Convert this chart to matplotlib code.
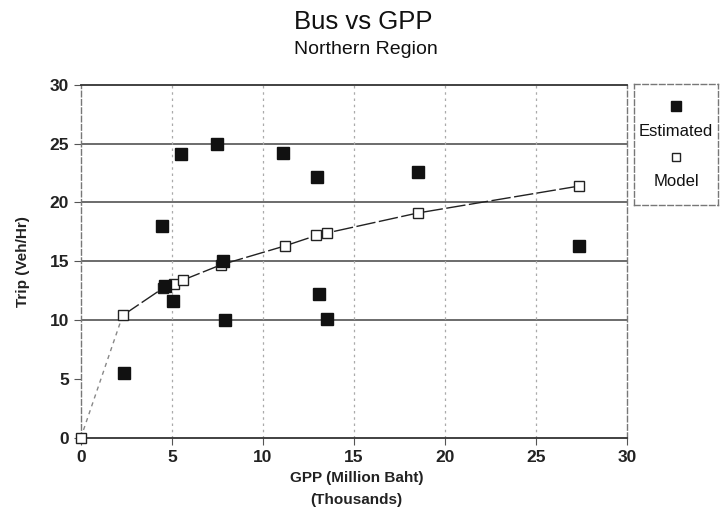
import matplotlib
matplotlib.use("Agg")
import matplotlib.pyplot as plt

plt.rcParams['font.family'] = ['Liberation Sans', 'DejaVu Sans']

# Data
est_x = [2.4, 4.45, 4.6, 5.05, 5.5, 7.5, 7.8, 7.9, 11.1, 12.96, 13.1, 13.5, 18.5, 27.4]
est_y = [5.5, 18.0, 12.9, 11.6, 24.1, 25.0, 15.0, 10.0, 24.2, 22.2, 12.2, 10.1, 22.6, 16.3]

model_x = [0, 2.3, 4.5, 5.1, 5.6, 7.7, 11.2, 12.95, 13.5, 18.5, 27.4]
model_y = [0, 10.4, 12.7, 13.1, 13.4, 14.7, 16.3, 17.2, 17.4, 19.1, 21.4]

x_ticks = [0, 5, 10, 15, 20, 25, 30]
y_ticks = [0, 5, 10, 15, 20, 25, 30]
h_grid = [10, 15, 20, 25]
v_grid = [5, 10, 15, 20, 25]

title = "Bus vs GPP"
subtitle = "Northern Region"
xlabel1 = "GPP (Million Baht)"
xlabel2 = "(Thousands)"
ylabel = "Trip (Veh/Hr)"
legend_labels = ["Estimated", "Model"]

fig = plt.figure(figsize=(7.28, 5.2), dpi=100)
ax = fig.add_axes([0.111, 0.158, 0.75, 0.679])
ax.set_xlim(0, 30)
ax.set_ylim(0, 30)

for g in h_grid:
    ax.axhline(g, color='#444444', lw=1.1, zorder=1)
for g in v_grid:
    ax.axvline(g, color='#aaaaaa', lw=0.9, ls=(0, (2, 3)), zorder=1)

# Model line
ax.plot(model_x[:2], model_y[:2], color='#888888', lw=1.0, ls=(0, (3, 3)), zorder=2)
ax.plot(model_x[1:], model_y[1:], color='#222222', lw=1.0, ls=(0, (14, 2.5)), zorder=2)

ax.plot(model_x, model_y, ls='none', marker='s', ms=7, mfc='white', mec='#222222', mew=1.0, zorder=4, clip_on=False)
ax.plot(est_x, est_y, ls='none', marker='s', ms=8, mfc='#111111', mec='#111111', zorder=5, clip_on=False)

ax.set_xticks(x_ticks)
ax.set_yticks(y_ticks)
ax.tick_params(axis='both', labelsize=12.5, length=5, width=0.8, color='#555555', direction='out')
for lab in ax.get_xticklabels() + ax.get_yticklabels():
    lab.set_fontweight('bold')
    lab.set_color('#222222')

ax.spines['top'].set_color('#333333')
ax.spines['top'].set_linewidth(1.3)
ax.spines['bottom'].set_color('#333333')
ax.spines['bottom'].set_linewidth(1.3)
for s in ['left', 'right']:
    ax.spines[s].set_color('#777777')
    ax.spines[s].set_linestyle((0, (4, 2)))
    ax.spines[s].set_linewidth(1.0)

ax.set_ylabel(ylabel, fontsize=11, fontweight='bold', color='#222222', labelpad=14)

fig.text(0.499, 1 - 22 / 520, title, ha='center', va='center', fontsize=18.5, color='#111111')
fig.text(0.503, 1 - 49 / 520, subtitle, ha='center', va='center', fontsize=14, color='#111111')
fig.text(0.49, 1 - 478 / 520, xlabel1, ha='center', va='center', fontsize=11, fontweight='bold', color='#222222')
fig.text(0.49, 1 - 500 / 520, xlabel2, ha='center', va='center', fontsize=11, fontweight='bold', color='#222222')

# Legend box
lax = fig.add_axes([0.871, 0.606, 0.115, 0.232])
lax.set_xlim(0, 1)
lax.set_ylim(0, 1)
lax.set_xticks([])
lax.set_yticks([])
for s in lax.spines.values():
    s.set_color('#777777')
    s.set_linestyle((0, (4, 2)))
    s.set_linewidth(1.0)
lax.plot([0.5], [0.82], ls='none', marker='s', ms=6.5, mfc='#111111', mec='#111111')
lax.text(0.5, 0.61, legend_labels[0], ha='center', va='center', fontsize=12, color='#111111')
lax.plot([0.5], [0.40], ls='none', marker='s', ms=6, mfc='white', mec='#222222')
lax.text(0.5, 0.19, legend_labels[1], ha='center', va='center', fontsize=12, color='#111111')

fig.savefig("out.png", dpi=100)
